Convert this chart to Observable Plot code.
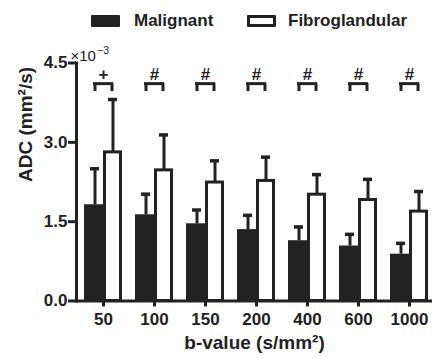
<!DOCTYPE html>
<html>
<head>
<meta charset="utf-8">
<script src="https://cdn.jsdelivr.net/npm/d3@7"></script>
<script src="https://cdn.jsdelivr.net/npm/@observablehq/plot@0.6"></script>
<style>
  html, body { margin: 0; padding: 0; background: #fff; }
  body { width: 432px; height: 358px; overflow: hidden; font-family: "Liberation Sans", Arial, sans-serif; }
  #legend { position: relative; height: 40px; width: 432px; color: #222; font-weight: bold; font-size: 17px; }
  #legend .sw { position: absolute; top: 15px; width: 29px; height: 12px; box-sizing: border-box; border-radius: 1px; }
  #legend .lab { position: absolute; top: 11px; line-height: 20px; }
</style>
</head>
<body>
<div id="legend">
  <div class="sw" style="left:91px;background:#222;"></div>
  <div class="lab" style="left:134px;">Malignant</div>
  <div class="sw" style="left:247px;border:3px solid #222;background:#fff;"></div>
  <div class="lab" style="left:288px;">Fibroglandular</div>
</div>
<div id="chart"></div>
<script>
const bValues = ["50", "100", "150", "200", "400", "600", "1000"];
const malignantMean = [1.82, 1.63, 1.46, 1.35, 1.14, 1.04, 0.885];
const malignantSD = [0.68, 0.39, 0.26, 0.27, 0.26, 0.22, 0.205];
const fibroMean = [2.81, 2.47, 2.24, 2.27, 2.01, 1.91, 1.69];
const fibroSD = [1.00, 0.67, 0.41, 0.45, 0.38, 0.39, 0.38];
const signif = ["+", "#", "#", "#", "#", "#", "#"];
const yTicks = [0, 1.5, 3.0, 4.5];
const bracketTop = 4.11, bracketLeg = 3.96, symbolY = 4.29;

const rows = bValues.map((b, i) => ({
  b, m: malignantMean[i], mTop: malignantMean[i] + malignantSD[i],
  f: fibroMean[i], fTop: fibroMean[i] + fibroSD[i], sig: signif[i]
}));

const ink = "#222";
const plot = Plot.plot({
  width: 432,
  height: 318,
  marginTop: 22.5,
  marginBottom: 57.5,
  marginLeft: 76,
  marginRight: 0,
  style: { fontFamily: "'Liberation Sans', Arial, sans-serif", fontSize: "17px", fontWeight: "bold", color: ink, background: "white" },
  x: { type: "band", domain: bValues, range: [83, 428], paddingInner: 0.2574, paddingOuter: 0, axis: null },
  y: { domain: [0, 4.5], axis: null },
  marks: [
    Plot.barY(rows, { x: "b", y: "m", fill: ink, insetRight: 19, insetLeft: 0 }),
    Plot.barY(rows, { x: "b", y: "f", fill: "white", stroke: ink, strokeWidth: 3, insetLeft: 20.5, insetRight: 1.5 }),
    Plot.ruleX(rows, { x: "b", y1: "m", y2: "mTop", dx: -8.5, stroke: ink, strokeWidth: 3 }),
    Plot.ruleX(rows, { x: "b", y1: "f", y2: "fTop", dx: 9.5, stroke: ink, strokeWidth: 3 }),
    Plot.tickY(rows, { x: "b", y: "mTop", insetLeft: 6, insetRight: 23, stroke: ink, strokeWidth: 3.5 }),
    Plot.tickY(rows, { x: "b", y: "fTop", insetLeft: 24, insetRight: 5, stroke: ink, strokeWidth: 3.5 }),
    Plot.tickY(rows, { x: "b", y: () => bracketTop, insetLeft: 9, insetRight: 9, stroke: ink, strokeWidth: 3 }),
    Plot.ruleX(rows, { x: "b", y1: () => bracketLeg, y2: () => bracketTop, dx: -8.5, stroke: ink, strokeWidth: 3 }),
    Plot.ruleX(rows, { x: "b", y1: () => bracketLeg, y2: () => bracketTop, dx: 8.5, stroke: ink, strokeWidth: 3 }),
    Plot.text(rows, { x: "b", y: () => symbolY, text: "sig", fontSize: 17, fontWeight: "bold", fill: ink }),
    Plot.ruleY([0], { stroke: ink, strokeWidth: 3 }),
    Plot.frame({ anchor: "left", stroke: ink, strokeWidth: 3 }),
    Plot.axisY({ ticks: yTicks, tickFormat: d3.format(".1f"), tickSize: 8, tickPadding: 1, strokeWidth: 3, stroke: ink, fill: ink, label: null, fontSize: 17 }),
    Plot.axisX({ tickSize: 6, tickPadding: 6, strokeWidth: 3, stroke: ink, fill: ink, label: null, fontSize: 17 }),
    Plot.text(["×10"], { frameAnchor: "top-left", dx: -6, dy: -2, textAnchor: "start", lineAnchor: "bottom", fontSize: 15, fontWeight: "normal", fill: ink }),
    Plot.text(["\u22123"], { frameAnchor: "top-left", dx: 20.5, dy: -9, textAnchor: "start", lineAnchor: "bottom", fontSize: 10.5, fontWeight: "normal", fill: ink }),
    Plot.text(["ADC (mm²/s)"], { frameAnchor: "left", dx: -51, rotate: -90, fontSize: 19, fontWeight: "bold", fill: ink }),
    Plot.text(["b-value (s/mm²)"], { frameAnchor: "bottom", dy: 47.5, fontSize: 19, fontWeight: "bold", fill: ink })
  ]
});
document.getElementById("chart").appendChild(plot);
</script>
</body>
</html>
